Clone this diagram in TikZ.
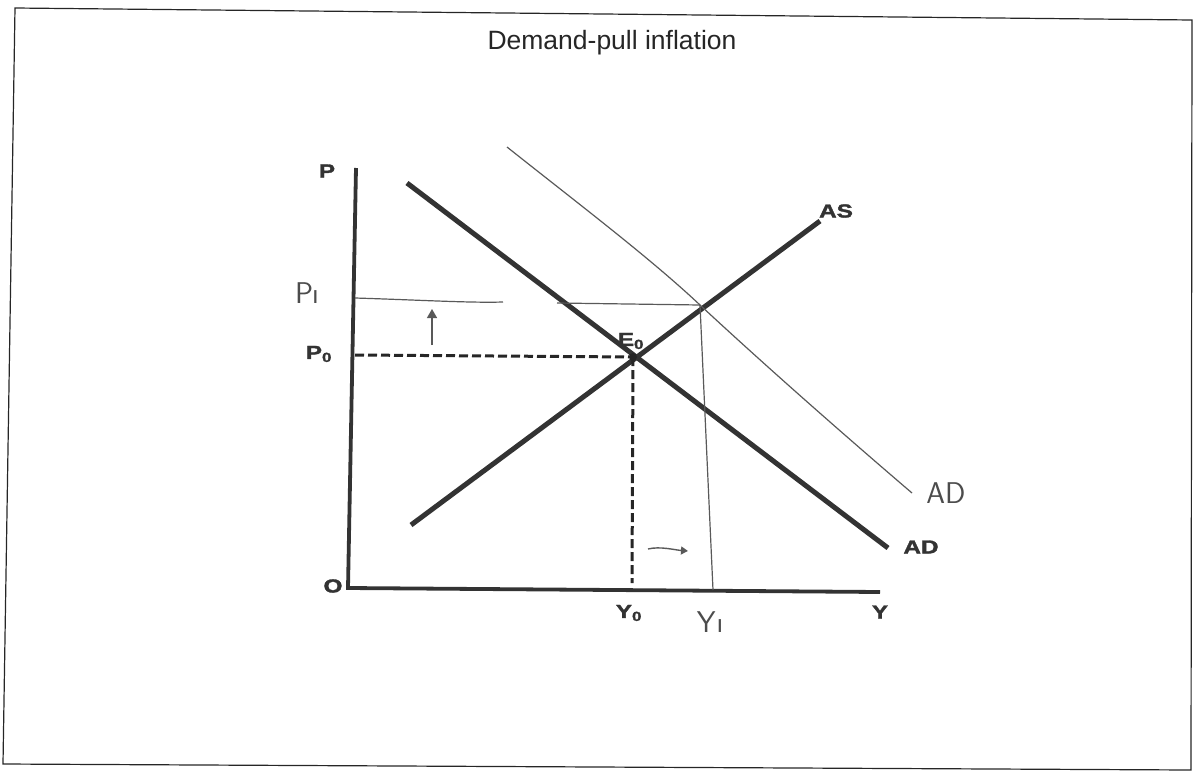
\documentclass[tikz,border=0pt]{standalone}
\usepackage{fontspec}
\usepackage{graphicx}
\setmainfont{Liberation Sans}
\newfontfamily\heavy[FakeBold=1.6]{Liberation Sans}
\usetikzlibrary{arrows.meta}
\newcommand{\wide}[1]{\scalebox{1.35}[1.05]{#1}}
\tikzset{
  frame/.style={line width=1.2pt, black!85},
  axis/.style={line width=3.8pt, black!80},
  curve/.style={line width=5pt, black!80},
  guide/.style={line width=3pt, black!85, dash pattern=on 9pt off 4pt},
  thin/.style={line width=1.2pt, black!65},
  lab/.style={font=\heavy\bfseries\fontsize{18}{18}\selectfont, text=black!80, inner sep=0pt},
  hand/.style={font=\sffamily\fontsize{30}{30}\selectfont, text=black!70, inner sep=0pt},
}
\begin{document}
\begin{tikzpicture}[x=1pt,y=-1pt]
\useasboundingbox (0,0) rectangle (1197,774);
% frame
\coordinate (f1) at (15,8);
\coordinate (f2) at (1192,20);
\coordinate (f3) at (1191,770);
\coordinate (f4) at (3,764);
\draw[frame] (f1) -- (f2) -- (f3) -- (f4) -- cycle;
% title
\node[font=\fontsize{26.5}{26.5}\selectfont, text=black!85] (title) at (612,43) {Demand-pull inflation};
% axes
\coordinate (ptop) at (356,168);
\coordinate (orig) at (348,588);
\coordinate (xend) at (880,592);
\draw[axis] (ptop) -- (orig) -- (xend);
\node[lab] (P) at (327,171) {\wide{P}};
\node[lab] (O) at (333,586) {\wide{O}};
\node[lab] (Y) at (880,612) {\wide{Y}};
% AD and AS
\coordinate (ad1) at (407,183);
\coordinate (ad2) at (888,548);
\coordinate (as1) at (411,525);
\coordinate (as2) at (820,221);
\draw[curve] (ad1) -- (ad2);
\draw[curve] (as1) -- (as2);
\node[lab] (AS) at (836,211) {\wide{AS}};
\node[lab] (AD) at (921,547) {\wide{AD}};
% equilibrium
\coordinate (E) at (633,357);
\fill[black!85] (E) circle (4pt);
\node[lab] (E0) at (631,341) {\wide{E\textsubscript{0}}};
\coordinate (p0) at (355,355);
\coordinate (y0) at (632,583);
\draw[guide] (p0) -- (E);
\draw[guide] (E) -- (y0);
\node[lab] (P0) at (319,354) {\wide{P\textsubscript{0}}};
\node[lab] (Y0) at (629,613) {\wide{Y\textsubscript{0}}};
% new AD
\coordinate (nad1) at (507,147);
\coordinate (nadm) at (700,305);
\coordinate (nad2) at (912,493);
\draw[thin] (nad1) .. controls (580,205) and (650,258) .. (nadm) .. controls (770,370) and (850,440) .. (nad2);
\node[hand] (AD1) at (946,493) {AD};
% P1 line
\coordinate (p1a) at (355,298);
\coordinate (p1b) at (503,302);
\coordinate (p1c) at (557,303);
\draw[thin] (p1a) .. controls (420,300) and (470,303) .. (p1b);
\draw[thin] (p1c) -- (nadm);
\node[hand] (P1) at (307,293) {P\kern-1pt ı};
% Y1 line
\coordinate (y1b) at (713,590);
\draw[thin] (nadm) -- (y1b);
\node[hand] (Y1) at (710,622) {Y\kern1pt ı};
% arrows
\coordinate (ua1) at (432,345);
\coordinate (ua2) at (432,309);
\draw[thin, line width=1.4pt, -{Triangle[width=10pt,length=9pt]}] (ua1) -- (ua2);
\coordinate (ra1) at (648,549);
\coordinate (ra2) at (688,551);
\draw[thin, line width=1.4pt, -{Triangle[width=8pt,length=7pt]}] (ra1) .. controls (660,546) and (675,550) .. (ra2);
\end{tikzpicture}
\end{document}
